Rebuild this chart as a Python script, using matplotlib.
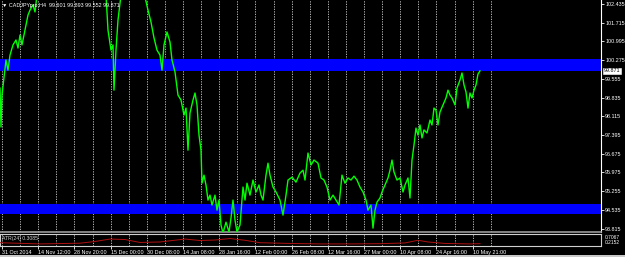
import numpy as np
import matplotlib.pyplot as plt
from matplotlib.patches import Rectangle

# CADJPY H4 close (x = bar position)
bar_x = [0, 1, 2, 4, 6, 8, 10, 13, 16, 18, 20, 22, 25, 28, 30, 33, 35, 37, 45, 70, 95,
         106, 108, 111, 113, 114, 116, 118, 121, 130, 140, 145, 148, 151, 154, 157, 160,
         162, 164, 167, 170, 172, 175, 178, 181, 184, 186, 188, 190, 193, 195, 197, 199,
         201, 202, 204, 206, 208, 210, 212, 215, 217, 219, 221, 223, 226, 229, 231, 233,
         235, 237, 240, 243, 245, 247, 250, 253, 256, 259, 261, 263, 266, 268, 270, 273,
         276, 280, 283, 286, 288, 292, 296, 300, 303, 305, 308, 311, 314, 318, 321, 324,
         327, 330, 333, 336, 339, 342, 345, 348, 351, 354, 357, 360, 363, 366, 368, 371,
         373, 375, 377, 380, 382, 385, 388, 390, 392, 394, 397, 400, 403, 405, 408, 410,
         412, 414, 416, 418, 420, 422, 424, 427, 430, 432, 434, 436, 438, 440, 443, 446,
         448, 450, 452, 455, 457, 460, 462, 464, 466, 468, 470, 472, 474, 476, 478, 480]
close = [99.20, 97.70, 98.93, 99.59, 100.28, 99.89, 100.47, 100.86, 101.05, 100.74, 101.24,
         100.86, 101.43, 102.01, 102.20, 102.40, 102.13, 102.78, 103.30, 103.50, 103.30,
         102.78, 101.43, 100.66, 100.86, 99.12, 100.66, 101.82, 102.78, 103.20, 103.00,
         102.70, 102.20, 101.74, 101.13, 100.66, 100.47, 99.89, 100.86, 101.36, 100.97,
         100.28, 99.82, 98.93, 98.74, 98.16, 98.43, 96.81, 98.24, 98.74, 99.01, 98.55,
         97.39, 96.81, 95.54, 95.85, 95.47, 94.89, 95.08, 94.70, 95.08, 94.50, 94.89,
         93.93, 93.62, 94.04, 93.66, 94.20, 94.89, 94.12, 93.66, 93.93, 95.39, 94.89,
         95.54, 95.08, 95.66, 95.20, 95.47, 95.08, 94.89, 95.85, 96.31, 95.85, 95.39,
         95.20, 94.89, 94.31, 95.08, 95.66, 95.77, 95.58, 95.93, 96.04, 95.66, 96.70,
         96.24, 96.43, 96.31, 95.74, 95.66, 95.39, 94.89, 95.08, 94.89, 94.70, 95.85,
         95.54, 95.74, 95.66, 95.81, 95.66, 95.39, 95.20, 94.89, 94.50, 94.70, 93.81,
         94.50, 94.81, 94.97, 95.20, 95.47, 95.74, 96.04, 96.43, 95.97, 95.66, 95.74,
         95.20, 95.47, 95.74, 94.97, 96.43, 97.01, 97.66, 97.39, 97.78, 97.28, 97.59,
         97.47, 97.97, 97.78, 98.43, 98.35, 97.78, 98.28, 98.55, 98.82, 99.12, 98.93,
         98.82, 98.55, 99.20, 99.51, 99.78, 99.32, 99.05, 98.43, 99.01, 98.82, 99.12,
         99.32, 99.74, 99.86]

atr_x = [0, 40, 80, 95, 110, 125, 140, 160, 185, 200, 215, 230, 245, 260, 290, 320, 350,
         380, 405, 418, 428, 445, 470, 480]
atr = [0.35, 0.30, 0.33, 0.40, 0.50, 0.48, 0.36, 0.38, 0.50, 0.44, 0.46, 0.52, 0.45, 0.35,
       0.32, 0.30, 0.30, 0.31, 0.34, 0.45, 0.38, 0.32, 0.30, 0.31]

res_band = (99.86, 100.32)
sup_band = (94.35, 94.74)

price_labels = ['102.435', '101.715', '100.995', '100.275', '99.555', '98.835', '98.115',
                '97.395', '96.675', '95.975', '95.255', '94.535', '93.815']
date_labels = ['31 Oct 2014', '14 Nov 12:00', '28 Nov 20:00', '15 Dec 00:00', '30 Dec 08:00',
               '14 Jan 08:00', '28 Jan 16:00', '12 Feb 00:00', '26 Feb 08:00', '12 Mar 16:00',
               '27 Mar 00:00', '10 Apr 08:00', '24 Apr 16:00', '10 May 21:00']
header = '\u25bc CADJPYpro,H4  99.601 99.893 99.552 99.871'
last_price = '99.871'
atr_text = 'ATR(24) 0.3085'
atr_labels = ['0.7067', '0.2152']

W, H = 625, 257
fnt = ['Liberation Sans', 'DejaVu Sans']
fs = 3.9
fig = plt.figure(figsize=(W / 100, H / 100), dpi=100, facecolor='black')

ax = fig.add_axes([0, (H - 232) / H, 601 / W, 232 / H], facecolor='black')
atr_ax = fig.add_axes([0, (H - 246) / H, 601 / W, 12 / H], facecolor='black')

x_max = 601
grid_x = 2 + 18.1 * np.arange(28)

# main price window
ax.set_xlim(0, x_max)
ax.set_ylim(93.661, 102.589)
for gx in grid_x:
    ax.axvline(gx, color='#d0d0d0', lw=0.6, ls=(0, (1.5, 1.5)), zorder=1)
ax.axhspan(*res_band, color='#0000ff', lw=0, zorder=2)
ax.axhspan(*sup_band, color='#0000ff', lw=0, zorder=2)
ax.plot(bar_x, close, color='#00ff00', lw=1.0, zorder=3)

yt = 102.435 - 0.72 * np.arange(len(price_labels))
ax.yaxis.tick_right()
ax.set_yticks(yt, price_labels)
ax.tick_params(axis='y', colors='white', length=2, width=0.6, pad=1, labelsize=fs)
for t in ax.get_yticklabels():
    t.set_family(fnt)
ax.set_xticks([])
for s in ax.spines.values():
    s.set_visible(False)
ax.spines['right'].set_visible(True)
ax.spines['right'].set_color('white')
ax.spines['bottom'].set_visible(True)
ax.spines['bottom'].set_color('#9a9a9a')
ax.spines['bottom'].set_linewidth(1.2)

ax.text(0.004, 0.985, header, transform=ax.transAxes, color='white', fontsize=fs,
        family=fnt, va='top', ha='left', zorder=5)
ax.text(1.005, 99.871, last_price, transform=ax.get_yaxis_transform(), color='black',
        fontsize=fs, family=fnt, va='center', ha='left', zorder=6, clip_on=False,
        bbox=dict(boxstyle='square,pad=0.1', fc='white', ec='white', lw=0.4))

# ATR sub-window
atr_ax.set_xlim(0, x_max)
atr_ax.set_ylim(0.2152, 0.7067)
for gx in grid_x:
    atr_ax.axvline(gx, color='#d0d0d0', lw=0.6, ls=(0, (1.5, 1.5)), zorder=1)
atr_ax.plot(atr_x, atr, color='#b01010', lw=0.7, zorder=3)
atr_ax.set_yticks([])
atr_ax.set_xticks(grid_x[::2], date_labels)
atr_ax.tick_params(axis='x', colors='white', length=2, width=0.6, pad=1, labelsize=fs)
for t in atr_ax.get_xticklabels():
    t.set_ha('left')
    t.set_family(fnt)
for s in atr_ax.spines.values():
    s.set_color('#d0d0d0')
    s.set_linewidth(0.8)
atr_ax.text(0.004, 0.6, atr_text, transform=atr_ax.transAxes, color='#d8d8d8',
            fontsize=3.7, family=fnt, va='center', ha='left', zorder=5)
atr_ax.text(1.006, 0.72, atr_labels[0], transform=atr_ax.transAxes, color='white',
            fontsize=3.5, family=fnt, va='center', ha='left', clip_on=False)
atr_ax.text(1.006, 0.28, atr_labels[1], transform=atr_ax.transAxes, color='white',
            fontsize=3.5, family=fnt, va='center', ha='left', clip_on=False)

# bottom tab strip
fig.patches.append(Rectangle((0, 0), 1, 2.5 / H, transform=fig.transFigure,
                             fc='#c8c8c8', ec='none'))

fig.savefig('out.png', dpi=100, facecolor='black')
